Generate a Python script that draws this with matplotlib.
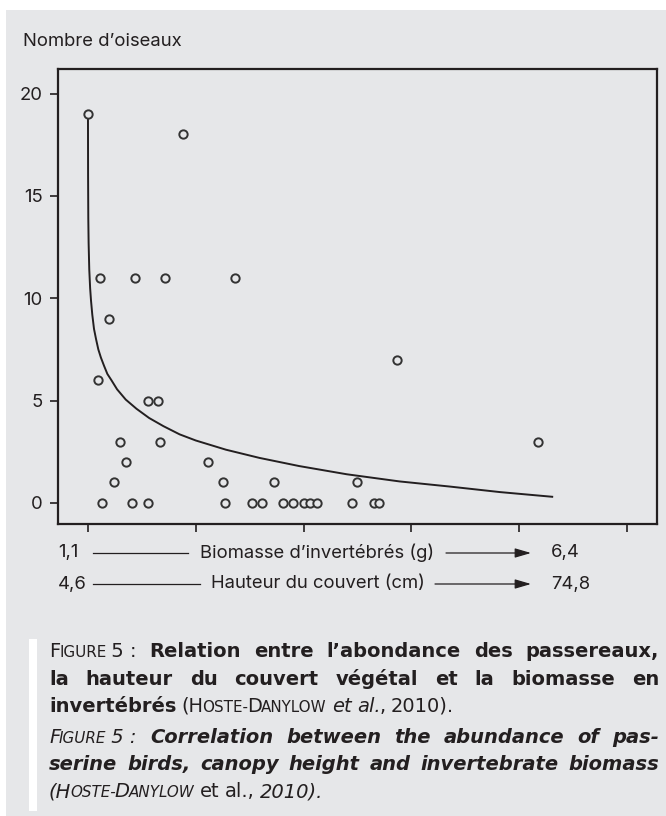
import matplotlib
matplotlib.use("Agg")
import matplotlib.pyplot as plt
from matplotlib.patches import Rectangle, FancyArrowPatch
from matplotlib.lines import Line2D

W, H = 666, 816
BG = "#e6e7e9"
INK = "#231f20"

# birds counted per plot; x is the position along the combined gradient (tick units)
bird_x = [0.0, 0.886,
          0.114, 0.44, 0.71, 1.36,
          0.195, 2.87, 0.09,
          0.555, 0.651,
          0.297, 0.666, 4.17,
          0.356, 1.109,
          0.245, 1.255, 1.726, 2.497,
          0.127, 0.406, 0.561, 1.273, 1.524, 1.611, 1.809, 1.899, 2.001, 2.057,
          2.122, 2.451, 2.649, 2.698]
bird_y = [19, 18,
          11, 11, 11, 11,
          9, 7, 6,
          5, 5,
          3, 3, 3,
          2, 2,
          1, 1, 1, 1,
          0, 0, 0, 0, 0, 0, 0, 0, 0, 0,
          0, 0, 0, 0]

# fitted curve
fit_x = [0.0, 0.001, 0.003, 0.006, 0.012, 0.02, 0.028, 0.04, 0.056, 0.075, 0.096,
         0.12, 0.149, 0.18, 0.217, 0.27, 0.35, 0.45, 0.567, 0.7, 0.85, 1.0, 1.28,
         1.59, 1.96, 2.4, 2.89, 3.355, 3.82, 4.306]
fit_y = [19.0, 16.0, 13.9, 12.7, 11.4, 10.5, 9.9, 9.2, 8.5, 8.0, 7.5,
         7.1, 6.7, 6.3, 6.0, 5.55, 5.05, 4.6, 4.15, 3.75, 3.35, 3.05, 2.6,
         2.2, 1.8, 1.4, 1.05, 0.8, 0.53, 0.3]

y_ticks = [0, 5, 10, 15, 20]
x_ticks = [0, 1, 2, 3, 4, 5]

y_title = "Nombre d\u2019oiseaux"
row_ends = [("1,1", "6,4"), ("4,6", "74,8")]
row_names = ["Biomasse d\u2019invert\u00e9br\u00e9s (g)", "Hauteur du couvert (cm)"]

plt.rcParams["font.family"] = ["Inter", "DejaVu Sans"]
LAB = 13.3


def px(x, y):
    return x / W, 1 - y / H


fig = plt.figure(figsize=(W / 100, H / 100), dpi=100)
fig.patch.set_facecolor("white")
fig.add_artist(Rectangle((6 / W, 0), 1, 1 - 10 / H, transform=fig.transFigure,
                         facecolor=BG, edgecolor="none", zorder=-5))

ax = fig.add_axes([58 / W, 1 - 524 / H, 599 / W, 455 / H])
ax.set_facecolor(BG)
ax.plot(fit_x, fit_y, color=INK, lw=1.4, zorder=2)
ax.plot(bird_x, bird_y, ls="none", marker="o", ms=6, mfc=BG, mec="#333333",
        mew=1.4, zorder=3)

ax.set_xlim(-0.278, 5.278)
ax.set_ylim(-1.03, 21.2)
ax.set_xticks(x_ticks)
ax.set_xticklabels([])
ax.set_yticks(y_ticks)
ax.tick_params(direction="out", length=6, width=1.2, color=INK, labelsize=LAB,
               labelcolor=INK, pad=5)
for s in ax.spines.values():
    s.set_linewidth(1.6)
    s.set_color(INK)

fig.text(*px(23, 41), y_title, fontsize=LAB, color=INK, va="center", ha="left")

# gradient rows under the x axis
row_y = [553, 584]
name_x = [(93, 188, 200, 446), (93, 200, 211, 435)]
for (lo, hi), name, y, (l0, l1, tx, a0) in zip(row_ends, row_names, row_y, name_x):
    fig.text(*px(58, y), lo, fontsize=LAB, color=INK, va="center", ha="left")
    fig.add_artist(Line2D([l0 / W, l1 / W], [1 - y / H, 1 - y / H],
                          transform=fig.transFigure, color=INK, lw=0.9))
    fig.text(*px(tx, y), name, fontsize=LAB, color=INK, va="center", ha="left")
    fig.add_artist(FancyArrowPatch(px(a0, y), px(531, y), transform=fig.transFigure,
                                   arrowstyle="-|>,head_length=0.75,head_width=0.22",
                                   mutation_scale=13, lw=0.9,
                                   color=INK, shrinkA=0, shrinkB=0))
    fig.text(*px(551, y), hi, fontsize=LAB, color=INK, va="center", ha="left")

# caption
fig.add_artist(Rectangle((29 / W, 1 - 811 / H), 8 / W, 172 / H,
                         transform=fig.transFigure, facecolor="white",
                         edgecolor="none"))

renderer = fig.canvas.get_renderer()
FS = 14
SC = 0.78
CAP_FONT = "DejaVu Sans"


def style(weight="normal", italic=False, small=False):
    return dict(fontsize=FS * SC if small else FS, fontweight=weight,
                fontstyle="italic" if italic else "normal", color=INK,
                family=CAP_FONT)


def frag_width(text, props):
    t = fig.text(0, 0, text, **props)
    w = t.get_window_extent(renderer).width
    t.remove()
    return w


def caption_line(words, y, justify=True, x0=49, x1=658):
    # fragments inside a word are butted together (small caps), words are spread
    widths = [[frag_width(t, p) - 1.2 for t, p in word] for word in words]
    total = sum(sum(w) for w in widths)
    gap = (x1 - x0 - total) / (len(words) - 1) if justify else 6.5
    x = x0
    for word, ws in zip(words, widths):
        for (t, p), w in zip(word, ws):
            fig.text(x / W, 1 - y / H, t, va="baseline", ha="left", **p)
            x += w
        x += gap


reg = style()
reg_sc = style(small=True)
bold = style("bold")
it = style(italic=True)
it_sc = style(italic=True, small=True)
bit = style("bold", True)

fr_1 = [[("F", reg), ("IGURE", reg_sc), (" 5 :", reg)]] + \
    [[(w, bold)] for w in "Relation entre l\u2019abondance des passereaux,".split()]
fr_2 = [[(w, bold)] for w in "la hauteur du couvert v\u00e9g\u00e9tal et la biomasse en".split()]
fr_3 = [[("invert\u00e9br\u00e9s", bold)],
        [("(H", reg), ("OSTE-", reg_sc), ("D", reg), ("ANYLOW", reg_sc)],
        [("et", it)], [("al.", it), (",", reg)], [("2010).", reg)]]
en_1 = [[("F", it), ("IGURE", it_sc), (" 5 :", it)]] + \
    [[(w, bit)] for w in "Correlation between the abundance of pas-".split()]
en_2 = [[(w, bit)] for w in "serine birds, canopy height and invertebrate biomass".split()]
en_3 = [[("(H", it), ("OSTE-", it_sc), ("D", it), ("ANYLOW", it_sc)],
        [("et", reg)], [("al.,", reg)], [("2010).", it)]]

caption_line(fr_1, 657)
caption_line(fr_2, 685)
caption_line(fr_3, 712, justify=False)
caption_line(en_1, 743)
caption_line(en_2, 770)
caption_line(en_3, 797, justify=False)

fig.savefig("out.png", dpi=100, facecolor=fig.get_facecolor())
